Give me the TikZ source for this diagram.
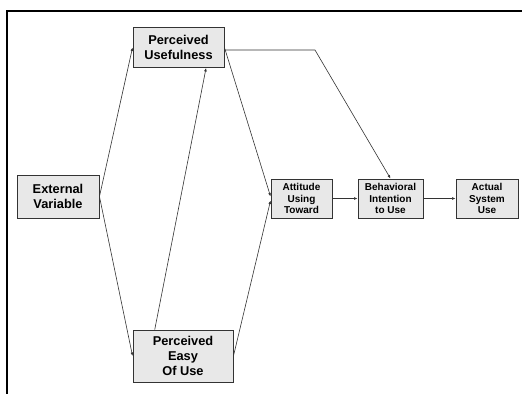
\documentclass[tikz,border=0pt]{standalone}
\usepackage{fontspec}
\setmainfont{Liberation Sans}
\usetikzlibrary{arrows.meta,calc}
\definecolor{boxfill}{HTML}{E8E8E8}
\definecolor{boxline}{HTML}{333333}
\definecolor{arrline}{HTML}{333333}
\tikzset{
  bigbox/.style={draw=boxline, fill=boxfill, line width=0.9pt, inner sep=0pt, align=center,
    font=\bfseries\fontsize{12.8}{15}\selectfont},
  smallbox/.style={draw=boxline, fill=boxfill, line width=0.9pt, inner sep=0pt, align=center,
    font=\bfseries\fontsize{10}{11.5}\selectfont},
  conn/.style={draw=arrline, line width=0.6pt, -{Latex[length=3.5pt,width=2.8pt]}},
  frameline/.style={line width=2pt, black}
}
\begin{document}
\begin{tikzpicture}[x=1pt,y=-1pt]
\useasboundingbox (0,0) rectangle (522,394);
\fill[white] (0,0) rectangle (522,394);
\draw[frameline] (522,10.5) -- (7,10.5) -- (7,394);

\node[bigbox, minimum width=91pt, minimum height=40pt] (pu) at (178.5,47.5) {Perceived\\Usefulness};
\node[bigbox, minimum width=82pt, minimum height=43pt] (ev) at (58,196.5) {External\\Variable};
\node[bigbox, minimum width=100pt, minimum height=52pt] (peou) at (183,356) {Perceived\\Easy\\Of Use};
\node[smallbox, minimum width=61pt, minimum height=39pt] (att) at (301.5,198.5) {Attitude\\Using\\Toward};
\node[smallbox, minimum width=65pt, minimum height=39pt] (bi) at (390.5,198.5) {Behavioral\\Intention\\to Use};
\node[smallbox, minimum width=62pt, minimum height=39pt] (asu) at (487,198.5) {Actual\\System\\Use};

\coordinate (corner) at (315,50);

\draw[conn] (ev.east) -- (pu.west);
\draw[conn] (ev.east) -- (peou.west);
\draw[conn] ($(peou.north west)!0.22!(peou.north east)$) -- ($(pu.south west)!0.8!(pu.south east)$);
\draw[conn] (pu.east) -- ($(att.west)+(0,-2)$);
\draw[conn] (peou.east) -- ($(att.west)+(0,2)$);
\draw[conn] ($(pu.east)+(0,2.5)$) -- (corner) -- (bi.north);
\draw[conn] (att.east) -- (bi.west);
\draw[conn] (bi.east) -- (asu.west);
\end{tikzpicture}
\end{document}
